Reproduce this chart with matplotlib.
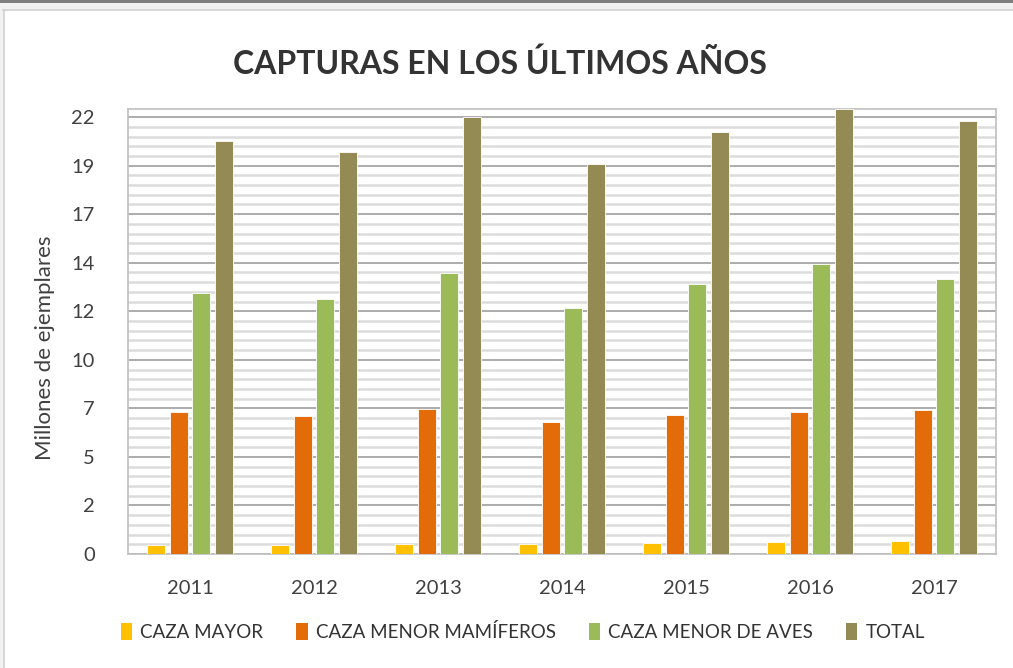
import matplotlib
matplotlib.use("Agg")
import matplotlib.pyplot as plt
from matplotlib.patches import Patch, Rectangle
from matplotlib.ticker import FixedLocator, MultipleLocator
import numpy as np

plt.rcParams['font.family'] = ['Lato', 'DejaVu Sans']

years = ["2011", "2012", "2013", "2014", "2015", "2016", "2017"]
caza_mayor = [0.43, 0.43, 0.47, 0.47, 0.54, 0.60, 0.66]
caza_menor_mamiferos = [7.00, 6.80, 7.16, 6.55, 6.86, 7.00, 7.13]
caza_menor_aves = [12.92, 12.61, 13.88, 12.16, 13.37, 14.32, 13.61]
total = [20.40, 19.89, 21.60, 19.26, 20.84, 22.00, 21.42]

series_names = ["CAZA MAYOR", "CAZA MENOR MAMÍFEROS", "CAZA MENOR DE AVES", "TOTAL"]
colors = ["#FFC000", "#E36C09", "#9BBB59", "#948A54"]

ytick_values = [0, 2.4, 4.8, 7.2, 9.6, 12.0, 14.4, 16.8, 19.2, 21.6]
ytick_labels = ["0", "2", "5", "7", "10", "12", "14", "17", "19", "22"]

fig = plt.figure(figsize=(10.13, 6.68), dpi=100)
fig.patch.set_facecolor("white")

# screenshot frame
fig.patches.append(Rectangle((0, 1 - 3 / 668), 1, 3 / 668, transform=fig.transFigure,
                             facecolor="#7F7F7F", edgecolor="none", zorder=0))
fig.patches.append(Rectangle((0, 1 - 9 / 668), 1, 6 / 668, transform=fig.transFigure,
                             facecolor="#F2F2F2", edgecolor="none", zorder=0))
fig.patches.append(Rectangle((0, 0), 3 / 1013, 1 - 9 / 668, transform=fig.transFigure,
                             facecolor="#F2F2F2", edgecolor="none", zorder=0))
fig.add_artist(plt.Line2D([3 / 1013, 1], [1 - 9.5 / 668, 1 - 9.5 / 668], transform=fig.transFigure,
                          color="#D0D0D0", lw=1.2))
fig.add_artist(plt.Line2D([3.5 / 1013, 3.5 / 1013], [0, 1 - 9.5 / 668], transform=fig.transFigure,
                          color="#D0D0D0", lw=1.2))

ax = fig.add_axes([128 / 1013, 1 - 554 / 668, (996 - 128) / 1013, (554 - 109) / 668])

x = np.arange(len(years))
slot = 0.183
width = 0.145
data = [caza_mayor, caza_menor_mamiferos, caza_menor_aves, total]
for i, (vals, col, name) in enumerate(zip(data, colors, series_names)):
    ax.bar(x + (i - 1.5) * slot, vals, width, color=col, edgecolor="white",
           linewidth=0.6, label=name, zorder=3)

ax.set_xlim(-0.5, len(years) - 0.5)
ax.set_ylim(0, 22.0)
ax.yaxis.set_major_locator(FixedLocator(ytick_values))
ax.set_yticklabels(ytick_labels)
ax.yaxis.set_minor_locator(MultipleLocator(0.48))
ax.set_xticks(x)
ax.set_xticklabels(years)

ax.grid(which="major", axis="y", color="#A6A6A6", linewidth=1.3, zorder=1)
ax.grid(which="minor", axis="y", color="#DCDCDC", linewidth=1.8, zorder=0)
ax.set_axisbelow(True)

ax.tick_params(axis="both", which="both", length=0, labelsize=14.5, colors="#595959")
ax.tick_params(axis="y", pad=24)
ax.tick_params(axis="x", pad=19)
for lbl in ax.get_yticklabels() + ax.get_xticklabels():
    lbl.set_color("#404040")

for s in ax.spines.values():
    s.set_color("#BFBFBF")
    s.set_linewidth(1.2)

fig.text(45 / 1013, 1 - 348 / 668, "Millones de ejemplares", rotation=90,
         ha="center", va="center", fontsize=16, color="#404040")

fig.text(500 / 1013, 1 - 64 / 668, "CAPTURAS EN LOS ÚLTIMOS AÑOS", ha="center",
         va="center", fontsize=23, fontweight="bold", color="#333333")

handles = [Patch(facecolor=c, edgecolor="none", label=n) for c, n in zip(colors, series_names)]
leg = fig.legend(handles=handles, loc="center", bbox_to_anchor=(523 / 1013, 1 - 632 / 668),
                 ncol=4, frameon=False, fontsize=13.5, handlelength=0.6, handleheight=1.0,
                 handletextpad=0.45, columnspacing=1.75)
for t in leg.get_texts():
    t.set_color("#333333")

fig.savefig("out.png", dpi=100, facecolor="white")
